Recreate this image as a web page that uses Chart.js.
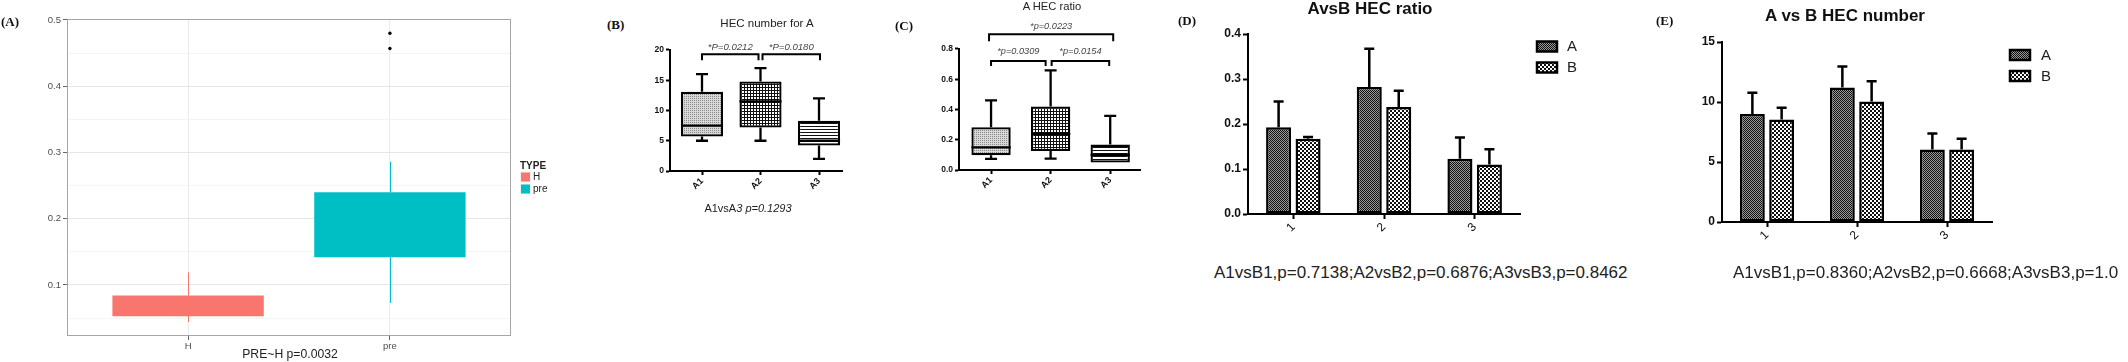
<!DOCTYPE html>
<html><head><meta charset="utf-8">
<script src="https://cdn.jsdelivr.net/npm/chart.js@4.4.1/dist/chart.umd.min.js"></script>
<style>
html,body{margin:0;padding:0;background:#fff;}
body{width:2128px;height:362px;overflow:hidden;position:relative;font-family:"Liberation Sans",Arial,sans-serif;}
canvas{position:absolute;}
.t{position:absolute;white-space:nowrap;line-height:1;color:#222;z-index:5;}
.c{transform:translate(-50%,-50%);}
.l{transform:translate(0,-50%);}
.pl{font-family:"Liberation Serif","Times New Roman",serif;font-weight:bold;font-size:13px;color:#111;}
</style></head>
<body>
<canvas id="cA" width="600" height="362" style="left:0;top:0"></canvas>
<canvas id="cB" width="240" height="230" style="left:630px;top:0"></canvas>
<canvas id="cC" width="260" height="230" style="left:900px;top:0"></canvas>
<canvas id="cD" width="520" height="250" style="left:1160px;top:0"></canvas>
<canvas id="cE" width="468" height="250" style="left:1660px;top:0"></canvas>

<div class="t l pl" style="left:1px;top:21px">(A)</div>
<div class="t l pl" style="left:607px;top:24px">(B)</div>
<div class="t l pl" style="left:895px;top:25px">(C)</div>
<div class="t l pl" style="left:1178px;top:20px">(D)</div>
<div class="t l pl" style="left:1656px;top:20px">(E)</div>

<div class="t c" style="left:290px;top:354px;font-size:12.2px;">PRE~H p=0.0032</div>
<div class="t c" style="left:767px;top:24px;font-size:11.5px;">HEC number for A</div>
<div class="t c" style="left:748px;top:208px;font-size:11px;">A1vsA<i>3 p=0.1293</i></div>
<div class="t c" style="left:1052px;top:7px;font-size:11.2px;">A HEC ratio</div>
<div class="t c" style="left:1370px;top:8px;font-size:17px;font-weight:bold;color:#111;">AvsB HEC ratio</div>
<div class="t c" style="left:1845px;top:15px;font-size:17px;font-weight:bold;color:#111;">A vs B HEC number</div>
<div class="t l" style="left:1214px;top:272px;font-size:17px;">A1vsB1,p=0.7138;A2vsB2,p=0.6876;A3vsB3,p=0.8462</div>
<div class="t l" style="left:1733px;top:272px;font-size:17px;">A1vsB1,p=0.8360;A2vsB2,p=0.6668;A3vsB3,p=1.0</div>

<script>
// ================= DATA =================
// (A) ggplot boxplot: HEC ratio by TYPE
const typeCats = ['H', 'pre'];
const typeMin  = [0.044, 0.073];
const typeQ1   = [0.053, 0.142];
const typeQ3   = [0.084, 0.240];
const typeMax  = [0.119, 0.286];
const preOutliers = [0.480, 0.457];

// (B) HEC number for A
const aGroups = ['A1', 'A2', 'A3'];
const numMin = [5.0, 5.0, 2.0];
const numQ1  = [5.7, 7.2, 4.2];
const numMed = [7.5, 11.5, 5.0];
const numQ3  = [13.1, 14.8, 8.3];
const numMax = [16.0, 17.0, 12.0];
const numComps = [['A1', 'A2', '*P=0.0212'], ['A2', 'A3', '*P=0.0180']];

// (C) A HEC ratio
const ratioMin = [0.073, 0.075, 0.050];
const ratioQ1  = [0.097, 0.126, 0.050];
const ratioMed = [0.150, 0.239, 0.100];
const ratioQ3  = [0.283, 0.420, 0.168];
const ratioMax = [0.460, 0.659, 0.358];
const ratioComps = [['A1', 'A3', '*p=0.0223'], ['A1', 'A2', '*p=0.0309'], ['A2', 'A3', '*p=0.0154']];

// (D) AvsB HEC ratio (mean + SEM)
const pairCats = ['1', '2', '3'];
const ratioA    = [0.193, 0.282, 0.123];
const ratioAErr = [0.057, 0.085, 0.047];
const ratioB    = [0.167, 0.238, 0.110];
const ratioBErr = [0.004, 0.036, 0.034];

// (E) A vs B HEC number (mean + SEM)
const numA    = [9.00, 11.20, 6.05];
const numAErr = [1.78, 1.75, 1.33];
const numB    = [8.55, 10.05, 6.05];
const numBErr = [0.98, 1.67, 0.89];

// ================= STYLE =================
Chart.defaults.font.family = '"Liberation Sans", Arial, sans-serif';
Chart.defaults.color = '#111';
const TYPE_COLORS = ['#F8766D', '#00BFC4'];

function pattern(w, h, cells, bg) {
  const c = document.createElement('canvas'); c.width = w; c.height = h;
  const g = c.getContext('2d'); g.fillStyle = bg; g.fillRect(0, 0, w, h);
  cells.forEach(([x, y, cw, ch, col]) => { g.fillStyle = col; g.fillRect(x, y, cw, ch); });
  return g.createPattern(c, 'repeat');
}
const patGrayDots = pattern(2, 2, [[0, 0, 1, 1, '#8a8a8a']], '#d8d8d8');
const patMesh     = pattern(3, 3, [[0, 0, 3, 1, '#111'], [0, 0, 1, 3, '#111']], '#fff');
const patStripes  = pattern(1, 3, [[0, 0, 1, 1, '#111']], '#fff');
const patFine     = pattern(2, 2, [[0, 0, 1, 1, '#111'], [1, 1, 1, 1, '#111']], '#9a9a9a');
const patCheck    = pattern(4, 4, [[0, 0, 2, 2, '#111'], [2, 2, 2, 2, '#111']], '#fff');

function place(chart, t) {
  let pad = {left: 0, top: 0, right: 0, bottom: 0};
  for (let k = 0; k < 3; k++) {
    const a = chart.chartArea;
    pad = {left: pad.left + t.l - a.left, top: pad.top + t.t - a.top,
           right: pad.right + a.right - t.r, bottom: pad.bottom + a.bottom - t.b};
    chart.options.layout.padding = pad;
    chart.update('none');
  }
}

const baseOpts = () => ({
  responsive: false, animation: false, events: [], devicePixelRatio: 1,
  layout: {padding: {left: 0, top: 0, right: 0, bottom: 0}},
  plugins: {legend: {display: false}, tooltip: {enabled: false}, title: {display: false}}
});

// ================= (A) =================
(function () {
  const majors = [0.1, 0.2, 0.3, 0.4, 0.5];
  const isMajor = v => majors.some(m => Math.abs(m - v) < 1e-6);
  const whiskers = {
    id: 'ggWhisk',
    beforeDatasetsDraw(chart) {
      const {ctx} = chart, xs = chart.scales.x, ys = chart.scales.y;
      ctx.save(); ctx.lineWidth = 1;
      typeCats.forEach((c, i) => {
        const x = Math.round(xs.getPixelForValue(i + 1)) + 0.5;
        ctx.strokeStyle = TYPE_COLORS[i];
        ctx.beginPath();
        ctx.moveTo(x, ys.getPixelForValue(typeQ3[i])); ctx.lineTo(x, ys.getPixelForValue(typeMax[i]));
        ctx.moveTo(x, ys.getPixelForValue(typeQ1[i])); ctx.lineTo(x, ys.getPixelForValue(typeMin[i]));
        ctx.stroke();
      });
      ctx.restore();
    },
    afterDatasetsDraw(chart) {
      const {ctx} = chart, a = chart.chartArea;
      ctx.save(); ctx.strokeStyle = '#a6a6a6'; ctx.lineWidth = 1;
      ctx.strokeRect(Math.round(a.left) + 0.5, Math.round(a.top) + 0.5, Math.round(a.right - a.left) - 1, Math.round(a.bottom - a.top) - 1);
      ctx.restore();
    },
    afterDraw(chart) {
      const {ctx} = chart, a = chart.chartArea, cy = (a.top + a.bottom) / 2;
      ctx.save();
      ctx.textBaseline = 'middle'; ctx.textAlign = 'left';
      ctx.fillStyle = '#222'; ctx.font = 'bold 10px "Liberation Sans", Arial, sans-serif';
      ctx.fillText('TYPE', a.right + 9, cy - 11.5);
      ctx.font = '10px "Liberation Sans", Arial, sans-serif';
      typeCats.forEach((c, i) => {
        const y = cy - 0.5 + i * 12;
        ctx.fillStyle = '#f2f2f2'; ctx.fillRect(a.right + 9, y - 5.5, 11, 11);
        ctx.fillStyle = TYPE_COLORS[i]; ctx.fillRect(a.right + 10, y - 4.5, 9, 9);
        ctx.fillStyle = '#222'; ctx.fillText(c, a.right + 22, y + 0.5);
      });
      ctx.restore();
    }
  };
  const o = baseOpts();
  o.scales = {
    x: {type: 'linear', min: 0.4, max: 2.6, offset: false,
        afterBuildTicks: s => { s.ticks = typeCats.map((c, i) => ({value: i + 1})); },
        ticks: {callback: v => typeCats[Math.round(v) - 1], font: {size: 9.5}, color: '#4d4d4d', padding: 1, maxRotation: 0},
        grid: {color: '#ebebeb', tickColor: '#666', tickLength: 4, offset: false},
        border: {display: false}},
    y: {type: 'linear', min: 0.023, max: 0.5015, beginAtZero: false,
        afterBuildTicks: s => { const t = []; for (let k = 1; k <= 10; k++) t.push({value: k * 0.05}); s.ticks = t; },
        ticks: {callback: v => isMajor(v) ? v.toFixed(1) : '', font: {size: 9.5}, color: '#4d4d4d', padding: 2},
        grid: {color: c => isMajor(c.tick.value) ? '#e6e6e6' : '#f4f4f4',
               tickColor: c => isMajor(c.tick.value) ? '#666' : 'rgba(0,0,0,0)', tickLength: 4},
        border: {display: false}}
  };
  const ch = new Chart(document.getElementById('cA'), {
    type: 'bar',
    data: {datasets: [
      {type: 'bar', data: typeCats.map((c, i) => ({x: i + 1, y: [typeQ1[i], typeQ3[i]]})),
       backgroundColor: TYPE_COLORS, borderWidth: 0, barPercentage: 0.75, categoryPercentage: 1, order: 2},
      {type: 'scatter', data: preOutliers.map(v => ({x: 2, y: v})), pointRadius: 1.7,
       pointBackgroundColor: '#000', pointBorderWidth: 0, order: 1}
    ]},
    options: o, plugins: [whiskers]
  });
  place(ch, {l: 67, t: 19, r: 511, b: 336});
})();

// ================= GraphPad box plots (B, C) =================
function gpBoxChart(id, st, comps, cfg) {
  const plugin = {
    id: 'gpBox',
    afterDatasetsDraw(chart) {
      const {ctx} = chart, ys = chart.scales.y, xs = chart.scales.x;
      const meta = chart.getDatasetMeta(0);
      ctx.save(); ctx.strokeStyle = '#000'; ctx.lineWidth = 2.3; ctx.lineCap = 'butt';
      aGroups.forEach((g, i) => {
        const el = meta.data[i], x = el.x, hw = el.width / 2;
        const yMax = ys.getPixelForValue(st.max[i]), yMin = ys.getPixelForValue(st.min[i]);
        const yQ1 = ys.getPixelForValue(st.q1[i]), yQ3 = ys.getPixelForValue(st.q3[i]);
        const yMed = ys.getPixelForValue(st.med[i]);
        ctx.beginPath();
        ctx.moveTo(x, yQ3); ctx.lineTo(x, yMax);
        ctx.moveTo(x - cfg.cap / 2, yMax); ctx.lineTo(x + cfg.cap / 2, yMax);
        if (yMin - yQ1 > 1) {
          ctx.moveTo(x, yQ1); ctx.lineTo(x, yMin);
          ctx.moveTo(x - cfg.cap / 2, yMin); ctx.lineTo(x + cfg.cap / 2, yMin);
        }
        ctx.moveTo(x - hw, yMed); ctx.lineTo(x + hw, yMed);
        ctx.stroke();
      });
      // significance brackets
      ctx.lineWidth = 2;
      comps.forEach((c, k) => {
        const s = cfg.brackets[k];
        const x1 = xs.getPixelForValue(aGroups.indexOf(c[0]) + 1) + s.g1;
        const x2 = xs.getPixelForValue(aGroups.indexOf(c[1]) + 1) - s.g2;
        const y = ys.getPixelForValue(s.y);
        ctx.strokeStyle = '#000';
        ctx.beginPath();
        ctx.moveTo(x1, y + s.drop); ctx.lineTo(x1, y); ctx.lineTo(x2, y); ctx.lineTo(x2, y + s.drop);
        ctx.stroke();
        ctx.fillStyle = '#444'; ctx.textAlign = 'center'; ctx.textBaseline = 'middle';
        ctx.font = 'italic ' + cfg.pFont + 'px "Liberation Sans", Arial, sans-serif';
        ctx.fillText(c[2], (x1 + x2) / 2, y - s.dy);
      });
      ctx.restore();
    }
  };
  const o = baseOpts();
  o.scales = {
    x: {type: 'linear', min: cfg.xmin, max: cfg.xmax, offset: false,
        afterBuildTicks: s => { s.ticks = aGroups.map((g, i) => ({value: i + 1})); },
        ticks: {callback: v => aGroups[Math.round(v) - 1], minRotation: 45, maxRotation: 45,
                font: {size: 9, weight: 'bold'}, color: '#111', padding: 1},
        grid: {drawOnChartArea: false, tickLength: 4, tickWidth: 2, tickColor: '#000', offset: false},
        border: {display: true, color: '#000', width: 2}},
    y: {type: 'linear', min: 0, max: cfg.ymax,
        ticks: {stepSize: cfg.step, callback: cfg.fmt, font: {size: 8.5, weight: 'bold'}, color: '#111', padding: 2},
        grid: {drawOnChartArea: false, tickLength: 4, tickWidth: 2, tickColor: '#000'},
        border: {display: true, color: '#000', width: 2}}
  };
  const ch = new Chart(document.getElementById(id), {
    type: 'bar',
    data: {datasets: [{
      data: aGroups.map((g, i) => ({x: i + 1, y: [st.q1[i], st.q3[i]]})),
      backgroundColor: [patGrayDots, patMesh, patStripes],
      borderColor: '#000', borderWidth: 2.3, borderSkipped: false,
      barPercentage: cfg.barPct, categoryPercentage: 1
    }]},
    options: o, plugins: [plugin]
  });
  place(ch, cfg.area);
}

gpBoxChart('cB', {min: numMin, q1: numQ1, med: numMed, q3: numQ3, max: numMax}, numComps, {
  xmin: 0.453, xmax: 3.393, ymax: 20, step: 5, fmt: v => String(v), cap: 12, barPct: 0.72, pFont: 9.6,
  area: {l: 40, t: 50, r: 212, b: 171},
  brackets: [{y: 19.3, drop: 6, g1: 0, g2: 2, dy: 6.5}, {y: 19.3, drop: 6, g1: 2, g2: -1, dy: 6.5}]
});
gpBoxChart('cC', {min: ratioMin, q1: ratioQ1, med: ratioMed, q3: ratioQ3, max: ratioMax}, ratioComps, {
  xmin: 0.462, xmax: 3.50, ymax: 0.8, step: 0.2, fmt: v => v.toFixed(1), cap: 12, barPct: 0.66, pFont: 9.2,
  area: {l: 59, t: 49, r: 240, b: 170},
  brackets: [{y: 0.897, drop: 7, g1: -2, g2: -3, dy: 7.5},
             {y: 0.721, drop: 5, g1: 0, g2: 5, dy: 9.5},
             {y: 0.721, drop: 5, g1: 1, g2: 1, dy: 9.5}]
});

// ================= GraphPad bar charts (D, E) =================
function gpBarChart(id, cfg, a, aErr, b, bErr) {
  const errs = [aErr, bErr];
  const plugin = {
    id: 'gpErr',
    afterDatasetsDraw(chart) {
      const {ctx} = chart, ys = chart.scales.y;
      ctx.save(); ctx.strokeStyle = '#000'; ctx.lineWidth = 2.5;
      chart.data.datasets.forEach((ds, d) => {
        chart.getDatasetMeta(d).data.forEach((el, i) => {
          const v = ds.data[i], e = errs[d][i];
          const y0 = ys.getPixelForValue(v), y1 = ys.getPixelForValue(v + e);
          ctx.beginPath();
          ctx.moveTo(el.x, y0); ctx.lineTo(el.x, y1);
          ctx.moveTo(el.x - 5, y1); ctx.lineTo(el.x + 5, y1);
          ctx.stroke();
        });
      });
      ctx.restore();
    },
    afterDraw(chart) {
      const {ctx} = chart, ar = chart.chartArea;
      ctx.save();
      chart.data.datasets.forEach((ds, i) => {
        const x = ar.right + cfg.lg.dx, y = ar.top + cfg.lg.dy + i * 21;
        ctx.fillStyle = ds.backgroundColor; ctx.fillRect(x, y, 20, 10);
        ctx.strokeStyle = '#000'; ctx.lineWidth = 2.5; ctx.strokeRect(x, y, 20, 10);
        ctx.fillStyle = '#222'; ctx.font = '15px "Liberation Sans", Arial, sans-serif';
        ctx.textBaseline = 'middle'; ctx.textAlign = 'left';
        ctx.fillText(ds.label, x + 20 + cfg.lg.tx, y + 5.5);
      });
      ctx.restore();
    }
  };
  const o = baseOpts();
  o.scales = {
    x: {type: 'category', offset: true,
        ticks: {minRotation: 45, maxRotation: 45, font: {size: 12}, color: '#111', padding: 1},
        grid: {drawOnChartArea: false, tickLength: 5, tickWidth: 2, tickColor: '#000', offset: false},
        border: {display: true, color: '#000', width: 2}},
    y: {type: 'linear', min: 0, max: cfg.ymax,
        ticks: {stepSize: cfg.step, callback: cfg.fmt, font: {size: 12, weight: 'bold'}, color: '#111', padding: 2},
        grid: {drawOnChartArea: false, tickLength: 5, tickWidth: 2, tickColor: '#000'},
        border: {display: true, color: '#000', width: 2}}
  };
  const common = {borderColor: '#000', borderWidth: 2.5, borderSkipped: false, categoryPercentage: 0.65, barPercentage: 0.85};
  const ch = new Chart(document.getElementById(id), {
    type: 'bar',
    data: {labels: pairCats, datasets: [
      Object.assign({label: 'A', data: a, backgroundColor: patFine}, common),
      Object.assign({label: 'B', data: b, backgroundColor: patCheck}, common)
    ]},
    options: o, plugins: [plugin]
  });
  place(ch, cfg.area);
}

gpBarChart('cD', {ymax: 0.4, step: 0.1, fmt: v => v.toFixed(1), area: {l: 88, t: 34, r: 360, b: 214},
  lg: {dx: 17, dy: 7.5, tx: 10}}, ratioA, ratioAErr, ratioB, ratioBErr);
gpBarChart('cE', {ymax: 15, step: 5, fmt: v => String(Math.round(v)), area: {l: 62, t: 42, r: 332, b: 222},
  lg: {dx: 18, dy: 8, tx: 11}}, numA, numAErr, numB, numBErr);
</script>
</body></html>
